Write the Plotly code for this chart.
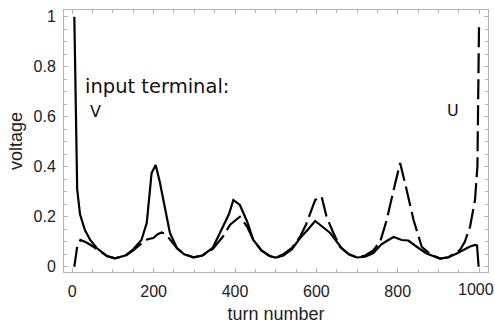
import plotly.graph_objects as go

# V (input terminal V, solid line)
v_turn = [5, 12, 19, 31, 44, 60, 85, 105, 130, 150, 170, 183, 195, 205, 215, 224, 240, 257, 275, 298,
          320, 345, 371, 385, 396, 412, 430, 445, 465, 485, 500, 519, 540, 560, 580, 597, 615, 634, 662,
          680, 700, 720, 740, 760, 775, 790, 810, 826, 851, 871, 904, 925, 945, 965, 978, 990, 995, 999]
v_volt = [1.0, 0.31, 0.21, 0.147, 0.107, 0.075, 0.043, 0.034, 0.045, 0.07, 0.107, 0.175, 0.375, 0.407,
          0.34, 0.267, 0.135, 0.075, 0.05, 0.038, 0.045, 0.075, 0.161, 0.21, 0.267, 0.247, 0.18, 0.107,
          0.065, 0.043, 0.037, 0.045, 0.07, 0.115, 0.15, 0.183, 0.16, 0.135, 0.075, 0.05, 0.037, 0.04,
          0.055, 0.09, 0.105, 0.119, 0.107, 0.105, 0.075, 0.053, 0.033, 0.038, 0.053, 0.07, 0.081, 0.087,
          0.085, 0.0]

# U (input terminal U, dashed line)
u_turn = [5, 12, 20, 35, 52, 70, 85, 105, 130, 150, 166, 185, 199, 210, 220, 230, 240, 257, 275, 298,
          320, 345, 370, 388, 408, 412, 430, 445, 465, 485, 500, 519, 540, 560, 575, 589, 597, 613, 625,
          642, 658, 680, 700, 720, 740, 757, 773, 790, 806, 822, 839, 859, 880, 904, 925, 953, 965, 978,
          990, 996, 1000]
u_volt = [0.0, 0.08, 0.107, 0.097, 0.08, 0.058, 0.043, 0.034, 0.043, 0.065, 0.088, 0.11, 0.115, 0.13,
          0.137, 0.13, 0.11, 0.075, 0.05, 0.038, 0.045, 0.07, 0.12, 0.168, 0.195, 0.2, 0.16, 0.107, 0.065,
          0.043, 0.037, 0.05, 0.075, 0.12, 0.17, 0.227, 0.267, 0.281, 0.2, 0.135, 0.08, 0.05, 0.037, 0.045,
          0.065, 0.101, 0.187, 0.307, 0.415, 0.307, 0.187, 0.08, 0.05, 0.033, 0.038, 0.067, 0.1, 0.161,
          0.267, 0.4, 0.98]

x_ticks = [0, 200, 400, 600, 800, 1000]
x_tick_text = ["0", "200", "400", "600", "800", "1000"]
y_ticks = [0, 0.2, 0.4, 0.6, 0.8, 1]
y_tick_text = ["0", "0.2", "0.4", "0.6", "0.8", "1"]

tick_font = dict(family="Liberation Sans, Arial", size=16, color="#222")

fig = go.Figure()
fig.add_trace(go.Scatter(x=v_turn, y=v_volt, mode="lines",
                         line=dict(color="black", width=2.2), showlegend=False))
fig.add_trace(go.Scatter(x=u_turn, y=u_volt, mode="lines",
                         line=dict(color="black", width=2.2, dash="20px,6px"), showlegend=False))

ann_font = dict(family="DejaVu Sans", size=19.5, color="#111")
fig.add_annotation(x=26, y=0.722, xref="x", yref="y", text="input terminal:", showarrow=False,
                   xanchor="left", yanchor="middle", font=ann_font)
fig.add_annotation(x=56, y=0.623, xref="x", yref="y", text="V", showarrow=False,
                   xanchor="center", yanchor="middle", font=dict(family="DejaVu Sans", size=16, color="#111"))
fig.add_annotation(x=936, y=0.627, xref="x", yref="y", text="U", showarrow=False,
                   xanchor="center", yanchor="middle", font=dict(family="DejaVu Sans", size=16, color="#111"))

# last x tick label drawn as annotation, nudged so it stays inside the page
fig.add_annotation(x=x_ticks[-1], y=0, xref="x", yref="paper", text=x_tick_text[-1], showarrow=False,
                   xanchor="center", yanchor="top", xshift=-3, yshift=-7, font=tick_font)
x_tick_labels = x_tick_text[:-1] + [""]

axis_common = dict(showline=True, linecolor="#b5b5b5", linewidth=1, mirror="ticks",
                   ticks="inside", ticklen=4, tickcolor="#b5b5b5", showgrid=False, zeroline=False,
                   tickfont=tick_font, ticklabeloverflow="allow", automargin=False)

fig.update_xaxes(range=[-20.4, 1022], tickvals=x_ticks, ticktext=x_tick_labels,
                 minor=dict(dtick=50, tick0=0, ticks="inside", ticklen=3, tickcolor="#b5b5b5"),
                 title=dict(text="turn number", font=dict(family="Liberation Sans, Arial", size=18, color="#222"),
                            standoff=8),
                 ticklabelstandoff=5, **axis_common)
fig.update_yaxes(range=[-0.021, 1.027], tickvals=y_ticks, ticktext=y_tick_text,
                 minor=dict(dtick=0.05, tick0=0, ticks="inside", ticklen=3, tickcolor="#b5b5b5"),
                 title=dict(text="voltage", font=dict(family="Liberation Sans, Arial", size=18, color="#222"),
                            standoff=6),
                 ticklabelstandoff=4, **axis_common)

fig.update_layout(width=495, height=324, margin=dict(l=64, r=7, t=10, b=52),
                  plot_bgcolor="white", paper_bgcolor="white")

fig.write_html("out.html")
